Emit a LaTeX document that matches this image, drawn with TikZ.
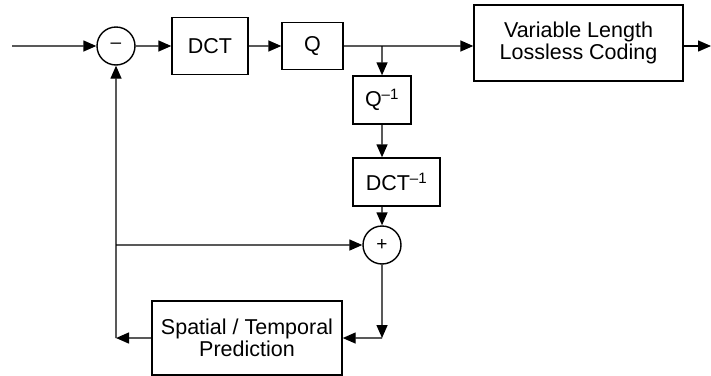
\documentclass[tikz,border=0pt]{standalone}
\usepackage{fontspec}
\setmainfont{Liberation Sans}
\usetikzlibrary{arrows.meta}

\begin{document}
\begin{tikzpicture}[scale=0.3515]

  \tikzstyle{every node}+=[inner sep=0pt, font=\fontsize{21.5}{21.5}\selectfont]
  \tikzstyle{block}=[draw=black, line width=1.4pt, align=center]
  \tikzstyle{adder}=[draw=black, line width=1.4pt, circle, minimum size=38pt, font=\fontsize{19}{19}\selectfont]
  \tikzstyle{signal}=[black, line width=1.4pt, -{Triangle[length=13pt,width=11pt]}]

  \useasboundingbox (0,0) rectangle (71.1,-37.6);

  \node [adder] (sub) at (11.6,-4.6) {--};
  \node [block, minimum width=76pt, minimum height=57pt] (dct) at (21.0,-4.6) {DCT};
  \node [block, minimum width=61pt, minimum height=47pt] (q) at (31.25,-4.6) {Q};
  \node [block, minimum width=209pt, minimum height=76pt] (vlc) at (57.85,-4.3) {Variable Length\\Lossless Coding};
  \node [block, minimum width=58pt, minimum height=48pt] (qinv) at (38.2,-10.0) {Q\textsuperscript{--1}};
  \node [block, minimum width=87pt, minimum height=48pt] (dctinv) at (39.65,-18.2) {DCT\textsuperscript{--1}};
  \node [adder] (add) at (38.2,-24.5) {+};
  \node [block, minimum width=190pt, minimum height=74pt] (pred) at (24.7,-33.8) {Spatial / Temporal\\Prediction};

  \coordinate (in) at (1.2,-4.6);
  \coordinate (out) at (71.1,-4.6);
  \coordinate (tap) at (38.2,-4.6);
  \coordinate (fb) at (11.6,-24.5);
  \coordinate (fbend) at (11.6,-33.8);
  \coordinate (addend) at (38.2,-33.8);

  \draw [signal] (in) -- (sub);
  \draw [signal] (sub) -- (dct);
  \draw [signal] (dct) -- (q);
  \draw [signal] (q) -- (q.east -| vlc.west);
  \draw [signal] (vlc.east |- tap) -- (out);
  \draw [signal] (tap) -- (qinv);
  \draw [signal] (qinv) -- (qinv.south |- dctinv.north);
  \draw [signal] (dctinv.south -| add) -- (add);
  \draw [signal] (add) -- (addend);
  \draw [signal] (addend) -- (pred);
  \draw [signal] (pred) -- (fbend);
  \draw [signal] (fbend) -- (sub);
  \draw [signal] (fb) -- (add);

\end{tikzpicture}
\end{document}
